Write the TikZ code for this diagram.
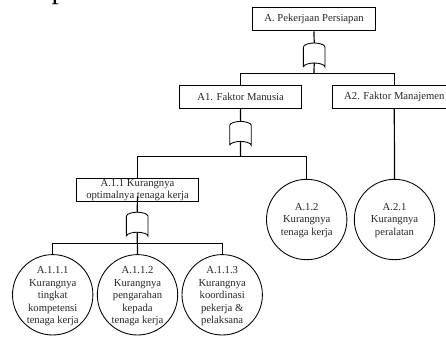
\documentclass[tikz,border=0pt]{standalone}
\usepackage{fontspec}
\setmainfont{Liberation Serif}
\tikzset{
  every node/.style={font=\fontsize{8}{9.4}\selectfont, text=black!85, align=center, inner sep=0pt},
  evbox/.style={draw=black, line width=0.75pt, rectangle, minimum width=92pt, minimum height=17.2pt},
  evcirc/.style={draw=black, line width=0.65pt, circle, minimum size=60.3pt},
  wire/.style={draw=black, line width=0.9pt},
  gatebox/.style={rectangle, minimum width=15.8pt, minimum height=17.6pt},
  gateline/.style={draw=black, line width=0.65pt},
}
\newcommand{\inhgate}[2]{%
  \node[gatebox] (#1) at (#2) {};
  \coordinate (#1b) at ([yshift=3pt]#1.south);
  \draw[gateline] (#1.south west) -- ([yshift=-3pt]#1.north west)
    .. controls ([yshift=-1pt]#1.north west) and ([xshift=-3pt]#1.north) .. (#1.north)
    .. controls ([xshift=3pt]#1.north) and ([yshift=-1pt]#1.north east) .. ([yshift=-3pt]#1.north east)
    -- (#1.south east)
    .. controls ([yshift=2pt]#1.south east) and ([xshift=3pt]#1b) .. (#1b)
    .. controls ([xshift=-3pt]#1b) and ([yshift=2pt]#1.south west) .. (#1.south west);
}
\begin{document}
\begin{tikzpicture}[x=0.75pt,y=-0.75pt]
\useasboundingbox (0,0) rectangle (446,336);
\begin{scope}
\clip (0,0) rectangle (446,336);
\node[font=\fontsize{22}{24}\selectfont, anchor=base, text=black] (frag) at (59,-2) {p};

\node[evbox] (A) at (314,19.4) {A. Pekerjaan Persiapan};
\node[evbox] (A1) at (240.6,97.2) {A1. Faktor Manusia};
\node[evbox] (A2) at (394.3,97.2) {A2. Faktor Manajemen};
\node[evbox] (A11) at (137.5,190.3) {A.1.1 Kurangnya\\optimalnya tenaga kerja};

\node[evcirc] (A111) at (52.7,294.8) {};
\node[evcirc] (A112) at (137.5,294.8) {};
\node[evcirc] (A113) at (222.2,294.8) {};
\node[evcirc] (A12) at (306.7,219.5) {};
\node[evcirc] (A21) at (394.5,219.5) {};
\node at ([yshift=-1.1pt]A111.center) {A.1.1.1\\Kurangnya\\tingkat\\kompetensi\\tenaga kerja};
\node at ([yshift=-1.1pt]A112.center) {A.1.1.2\\Kurangnya\\pengarahan\\kepada\\tenaga kerja};
\node at ([yshift=-1.1pt]A113.center) {A.1.1.3\\Kurangnya\\koordinasi\\pekerja \&\\pelaksana};
\node at ([yshift=-0.6pt]A12.center) {A.1.2\\Kurangnya\\tenaga kerja};
\node at ([yshift=-0.6pt]A21.center) {A.2.1\\Kurangnya\\peralatan};

\inhgate{G1}{314.2,55}
\inhgate{G2}{240.5,133.4}
\inhgate{G3}{137.2,224.2}

\draw[wire] (A.south) -- (G1.north);
\draw[wire] (G1b) -- (A.south |- 0,73.5) coordinate (J1);
\draw[wire] (A1.north) |- (J1) -| (A2.north);

\draw[wire] (A1.south) -- (G2.north);
\draw[wire] (G2b) -- (A1.south |- 0,156.5) coordinate (J2);
\draw[wire] (A11.north) |- (J2) -| (A12.north);

\draw[wire] ([yshift=4.5pt]A11.south) -- (G3.north);
\draw[wire] (G3b) -- (A112.north);
\coordinate (J3) at (137.2,243.5);
\draw[wire] (A111.north) |- (J3) -| (A113.north);

\draw[wire] (A2.south) -- (A21.north);
\end{scope}
\end{tikzpicture}
\end{document}
